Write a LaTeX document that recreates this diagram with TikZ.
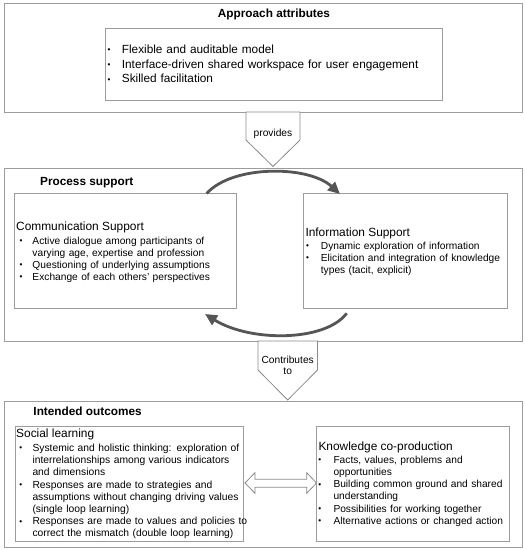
\documentclass[tikz,border=0pt]{standalone}
\usepackage{fontspec}
\setmainfont{Liberation Sans}
\usetikzlibrary{arrows.meta}
\definecolor{boxgray}{HTML}{9C9C9C}
\definecolor{arrgray}{HTML}{8A8A8A}
\definecolor{curvegray}{HTML}{555555}
\newlength{\bulw}
\newcommand{\smbul}{\hspace*{0.9pt}\raisebox{0.6pt}{\fontsize{8.2}{8.2}\selectfont\textbullet}}
\newcommand{\itm}[1]{\leftskip=\bulw\noindent\hspace*{-\bulw}\makebox[\bulw][l]{\smbul}#1\par}
\begin{document}
\begin{tikzpicture}[x=1pt,y=-1pt,
  box/.style={draw=boxgray, line width=0.9pt, fill=white, anchor=north west, inner sep=0pt, rectangle},
  lst/.style={inner sep=0pt, anchor=base west, text width=340pt},
  ttl/.style={inner sep=0pt, anchor=base west, font=\bfseries\fontsize{11.8}{14}\selectfont},
  sub/.style={inner sep=0pt, anchor=base west, font=\fontsize{11.9}{14}\selectfont},
  small/.style={font=\fontsize{10.2}{12.1}\selectfont},
  big/.style={font=\fontsize{11.8}{14.6}\selectfont},
  pent/.style={draw=arrgray, line width=0.8pt, fill=white, line join=miter},
  curve/.style={draw=curvegray, line width=2.8pt, -{Triangle[length=12pt,width=11pt]}}
]
\useasboundingbox (0,0) rectangle (525,550);

% ---------- Approach attributes ----------
\node[box, minimum width=518pt, minimum height=109pt] (outerA) at (4,3) {};
\node[inner sep=0pt, anchor=base, font=\bfseries\fontsize{11.8}{14}\selectfont] (titleA) at (274,17.5) {Approach attributes};
\node[box, minimum width=336.5pt, minimum height=72pt] (innerA) at (105,28) {};
\node[lst, big] (listA) at (106.6,53.5) {\setlength{\bulw}{15.1pt}\raggedright
\itm{Flexible and auditable model}
\itm{Interface-driven shared workspace for user engagement}
\itm{Skilled facilitation}};

% ---------- provides ----------
\coordinate (pa1) at (246,112);
\coordinate (pa2) at (246,140);
\coordinate (pa3) at (273,166.5);
\coordinate (pa4) at (300,140);
\coordinate (pa5) at (300,112);
\path[pent] (pa1) -- (pa2) -- (pa3) -- (pa4) -- (pa5) -- cycle;
\node[inner sep=0pt, anchor=base, small] (provides) at (273,136) {provides};

% ---------- Process support ----------
\node[box, minimum width=518pt, minimum height=173pt] (outerB) at (4,168) {};
\node[ttl] (titleB) at (40,185) {Process support};
\node[box, minimum width=222pt, minimum height=115pt] (comm) at (14,193) {};
\node[box, minimum width=204pt, minimum height=115pt] (info) at (303,193) {};
\node[sub] (commtitle) at (16,230) {Communication Support};
\node[lst, small] (commlist) at (18.5,244) {\setlength{\bulw}{13.8pt}\raggedright
\itm{Active dialogue among participants of\newline varying age, expertise and profession}
\itm{Questioning of underlying assumptions}
\itm{Exchange of each others' perspectives}};
\node[sub] (infotitle) at (305.3,236) {Information Support};
\node[lst, small] (infolist) at (305,249) {\setlength{\bulw}{15.7pt}\raggedright
\itm{Dynamic exploration of information}
\itm{Elicitation and integration of knowledge\newline types (tacit, explicit)}};

\coordinate (c1) at (206.7,193.5);
\coordinate (c2) at (340,194);
\coordinate (c3) at (346.7,313.3);
\coordinate (c4) at (205,314);
\draw[curve] (c1) .. controls (232,165) and (308,165) .. (c2);
\draw[curve] (c3) .. controls (325,342) and (250,342) .. (c4);

% ---------- Contributes to ----------
\coordinate (pb1) at (258,341);
\coordinate (pb2) at (258,370);
\coordinate (pb3) at (287.7,400);
\coordinate (pb4) at (317.5,370);
\coordinate (pb5) at (317.5,341);
\path[pent] (pb1) -- (pb2) -- (pb3) -- (pb4) -- (pb5) -- cycle;
\node[inner sep=0pt, anchor=base, small] (contrib) at (287.7,363) {Contributes};
\node[inner sep=0pt, anchor=base, small] (contribto) at (287.7,374.5) {to};

% ---------- Intended outcomes ----------
\node[box, minimum width=518pt, minimum height=146pt] (outerC) at (4,401) {};
\node[ttl] (titleC) at (33.3,415) {Intended outcomes};
\node[box, minimum width=228pt, minimum height=115.3pt] (social) at (15,425.7) {};
\node[box, minimum width=193pt, minimum height=115.3pt] (know) at (316,425.7) {};
\node[sub] (socialtitle) at (16,437.5) {Social learning};
\node[lst, font=\fontsize{10.3}{12.2}\selectfont] (sociallist) at (18.3,451.5) {\setlength{\bulw}{14pt}\raggedright
\itm{Systemic and holistic thinking: exploration of\newline interrelationships among various indicators\newline and dimensions}
\itm{Responses are made to strategies and\newline assumptions without changing driving values\newline (single loop learning)}
\itm{Responses are made to values and policies to\newline correct the mismatch (double loop learning)}};
\node[sub] (knowtitle) at (318.3,450) {Knowledge co-production};
\node[lst, font=\fontsize{10.2}{12.3}\selectfont] (knowlist) at (317.3,463) {\setlength{\bulw}{16pt}\raggedright
\itm{Facts, values, problems and\newline opportunities}
\itm{Building common ground and shared\newline understanding}
\itm{Possibilities for working together}
\itm{Alternative actions or changed action}};

\coordinate (d1) at (245,483);
\coordinate (d2) at (316.5,483);
\path[pent] (d1) -- (255,472.7) -- (255,479.3) -- (306.7,479.3) -- (306.7,472.7) -- (d2)
  -- (306.7,493.3) -- (306.7,487.3) -- (255,487.3) -- (255,493.3) -- cycle;
\end{tikzpicture}
\end{document}
